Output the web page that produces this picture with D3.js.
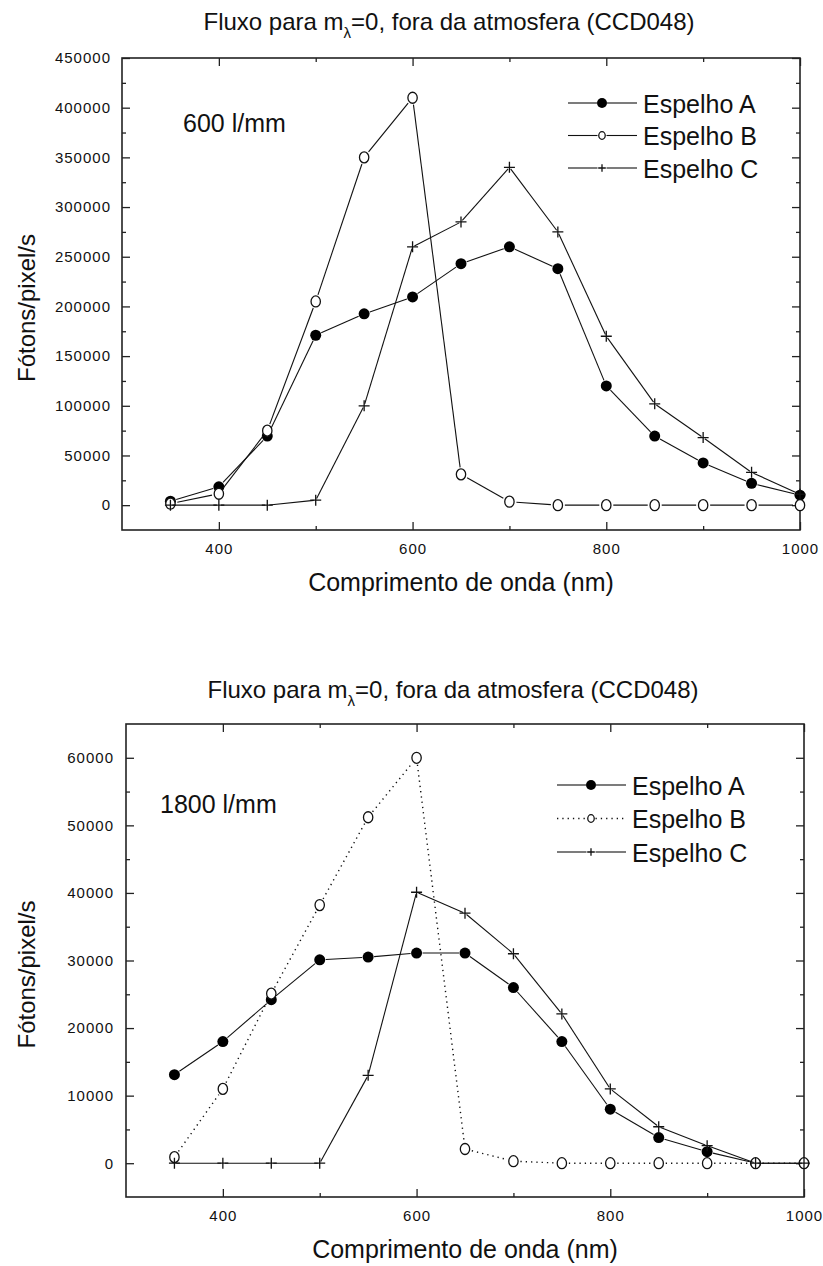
<!DOCTYPE html>
<html>
<head>
<meta charset="utf-8">
<script src="https://cdn.jsdelivr.net/npm/d3@7"></script>
<style>
  body { margin: 0; background: #fff; }
  svg { display: block; }
  text { font-family: "Liberation Sans", Arial, sans-serif; fill: #111; }
</style>
</head>
<body>
<div id="chart"></div>
<script>
// wavelengths (nm), shared by both panels
const wavelengths = [350, 400, 450, 500, 550, 600, 650, 700, 750, 800, 850, 900, 950, 1000]
const xTicks = [400, 600, 800, 1000]
const xMinorTicks = [500, 700, 900]
const seriesNames = ['Espelho A', 'Espelho B', 'Espelho C']

// 600 l/mm
const flux600A = [4000, 18500, 69500, 171000, 192500, 209500, 243000, 260000, 238000, 120000, 69500, 42500, 22000, 10000]
const flux600B = [1500, 11500, 75000, 205000, 350000, 410000, 31000, 3500, 0, 0, 0, 0, 0, 0]
const flux600C = [0, 0, 0, 5000, 100000, 260000, 285000, 340000, 275000, 170000, 102000, 68000, 33000, 11000]
const yTicks600 = [0, 50000, 100000, 150000, 200000, 250000, 300000, 350000, 400000, 450000]

// 1800 l/mm
const flux1800A = [13100, 18000, 24200, 30100, 30500, 31100, 31100, 26000, 18000, 8000, 3800, 1700, 0, 0]
const flux1800B = [900, 11000, 25100, 38200, 51200, 60000, 2100, 300, 0, 0, 0, 0, 0, 0]
const flux1800C = [0, 0, 0, 0, 13000, 40100, 37000, 31000, 22100, 11000, 5400, 2600, 0, 0]
const yTicks1800 = [0, 10000, 20000, 30000, 40000, 50000, 60000]

const width = 823
const height = 1266
const markerKinds = ['filled', 'open', 'plus']

const panels = [
  {
    box: { left: 122, top: 58, right: 800, bottom: 530 },
    yDomain: [-25000, 450000],
    yTicks: yTicks600,
    yMinorStep: 25000,
    series: [flux600A, flux600B, flux600C],
    dottedB: false,
    titleY: 30,
    grating: '600 l/mm',
    gratingPos: [183, 132],
    legend: { x: 568, y: 103, dy: 32.5 },
    yLabelPad: 11
  },
  {
    box: { left: 126, top: 724, right: 804, bottom: 1197 },
    yDomain: [-5000, 65000],
    yTicks: yTicks1800,
    yMinorStep: 5000,
    series: [flux1800A, flux1800B, flux1800C],
    dottedB: true,
    titleY: 698,
    grating: '1800 l/mm',
    gratingPos: [160, 813],
    legend: { x: 557, y: 785, dy: 33.5 },
    yLabelPad: 12
  }
]

const svg = d3.select('#chart')
  .append('svg')
  .attr('width', width)
  .attr('height', height)

function drawMarker(sel, kind, cx, cy, size) {
  if (kind === 'filled') {
    sel.append('circle')
      .attr('cx', cx).attr('cy', cy).attr('r', size)
      .attr('fill', '#000')
  } else if (kind === 'open') {
    sel.append('ellipse')
      .attr('cx', cx).attr('cy', cy).attr('rx', size * 0.85).attr('ry', size)
      .attr('fill', '#fff').attr('stroke', '#111').attr('stroke-width', 1.3)
  } else {
    sel.append('path')
      .attr('d', `M${cx - size},${cy}H${cx + size}M${cx},${cy - size}V${cy + size}`)
      .attr('stroke', '#111').attr('stroke-width', 1.3)
  }
}

// line between two points, shortened at both ends so it stops short of the symbols
function trimmed(p0, p1, g0, g1) {
  const dx = p1[0] - p0[0], dy = p1[1] - p0[1]
  const len = Math.hypot(dx, dy)
  if (len <= g0 + g1) return null
  return [p0[0] + dx * g0 / len, p0[1] + dy * g0 / len, p1[0] - dx * g1 / len, p1[1] - dy * g1 / len]
}

const markerSize = { filled: 5.5, open: 5.5, plus: 5.5 }
const markerGap = { filled: 6, open: 7, plus: 2 }

function drawPanel(p) {
  const { box } = p
  const x = d3.scaleLinear().domain([300, 1000]).range([box.left, box.right])
  const y = d3.scaleLinear().domain(p.yDomain).range([box.bottom, box.top])
  const g = svg.append('g')

  // title with subscript lambda
  const title = g.append('text')
    .attr('x', (box.left + box.right) / 2 - 12)
    .attr('y', p.titleY)
    .attr('text-anchor', 'middle')
    .attr('font-size', 24)
  title.append('tspan').text('Fluxo para m')
  title.append('tspan').attr('font-size', 15).attr('dy', 8).text('λ')
  title.append('tspan').attr('dy', -8).text('=0, fora da atmosfera (CCD048)')

  const yMinor = d3.range(p.yDomain[0], p.yDomain[1] + 1, p.yMinorStep)
    .filter(v => v > p.yDomain[0] && v < p.yDomain[1] && !p.yTicks.includes(v))

  function addAxis(axis, transform, values, size, pad, labels) {
    const a = g.append('g')
      .attr('transform', transform)
      .call(axis.tickValues(values).tickSize(-size).tickSizeOuter(0).tickPadding(pad)
        .tickFormat(labels ? d3.format('d') : () => ''))
    a.select('.domain').remove()
    a.selectAll('line').attr('stroke', '#222').attr('stroke-width', 1.3)
    a.selectAll('text')
      .attr('font-size', 15)
      .attr('letter-spacing', 1)
      .attr('font-family', '"Liberation Sans", Arial, sans-serif')
      .attr('fill', '#111')
    return a
  }

  addAxis(d3.axisBottom(x), `translate(0,${box.bottom})`, xTicks, 8, 13, true)
  addAxis(d3.axisBottom(x), `translate(0,${box.bottom})`, xMinorTicks, 4, 0, false)
  addAxis(d3.axisTop(x), `translate(0,${box.top})`, xTicks, 8, 0, false)
  addAxis(d3.axisTop(x), `translate(0,${box.top})`, xMinorTicks, 4, 0, false)
  addAxis(d3.axisLeft(y), `translate(${box.left},0)`, p.yTicks, 8, p.yLabelPad, true)
  addAxis(d3.axisLeft(y), `translate(${box.left},0)`, yMinor, 4, 0, false)
  addAxis(d3.axisRight(y), `translate(${box.right},0)`, p.yTicks, 8, 0, false)
  addAxis(d3.axisRight(y), `translate(${box.right},0)`, yMinor, 4, 0, false)

  // frame
  g.append('rect')
    .attr('x', box.left).attr('y', box.top)
    .attr('width', box.right - box.left).attr('height', box.bottom - box.top)
    .attr('fill', 'none').attr('stroke', '#222').attr('stroke-width', 1.6)

  // axis titles
  g.append('text')
    .attr('x', (box.left + box.right) / 2)
    .attr('y', box.bottom + 61)
    .attr('text-anchor', 'middle')
    .attr('font-size', 25)
    .text('Comprimento de onda (nm)')

  g.append('text')
    .attr('transform', `translate(35,${(box.top + box.bottom) / 2 + 14}) rotate(-90)`)
    .attr('text-anchor', 'middle')
    .attr('font-size', 24)
    .text('Fótons/pixel/s')

  g.append('text')
    .attr('x', p.gratingPos[0]).attr('y', p.gratingPos[1])
    .attr('font-size', 25)
    .text(p.grating)

  // series
  p.series.forEach((vals, i) => {
    const kind = markerKinds[i]
    const dotted = p.dottedB && i === 1
    const pts = wavelengths.map((w, j) => [x(w), y(vals[j])])
    const gap = markerGap[kind]
    const sg = g.append('g')
    sg.selectAll('line')
      .data(d3.pairs(pts).map(([a, b]) => trimmed(a, b, gap, gap)).filter(Boolean))
      .join('line')
      .attr('x1', d => d[0]).attr('y1', d => d[1])
      .attr('x2', d => d[2]).attr('y2', d => d[3])
      .attr('stroke', '#111')
      .attr('stroke-width', dotted ? 1.4 : 1.1)
      .attr('stroke-dasharray', dotted ? '1.3,4' : null)
    pts.forEach(pt => drawMarker(sg, kind, pt[0], pt[1], markerSize[kind]))
  })

  // legend
  const lg = g.append('g')
  seriesNames.forEach((name, i) => {
    const kind = markerKinds[i]
    const dotted = p.dottedB && i === 1
    const cy = p.legend.y + i * p.legend.dy
    const x0 = p.legend.x
    const xm = x0 + 34
    const x1 = x0 + 69
    const half = kind === 'filled' ? 5 : 4.5
    ;[[x0, xm - half], [xm + half, x1]].forEach(([a, b]) => {
      lg.append('line')
        .attr('x1', a).attr('x2', b).attr('y1', cy).attr('y2', cy)
        .attr('stroke', '#111')
        .attr('stroke-width', dotted ? 1.4 : 1.1)
        .attr('stroke-dasharray', dotted ? '1.3,4' : null)
    })
    drawMarker(lg, kind, xm, cy, kind === 'filled' ? 5 : 3.8)
    lg.append('text')
      .attr('x', x1 + 6)
      .attr('y', cy + 9.5)
      .attr('font-size', 25)
      .text(name)
  })
}

panels.forEach(drawPanel)
</script>
</body>
</html>
